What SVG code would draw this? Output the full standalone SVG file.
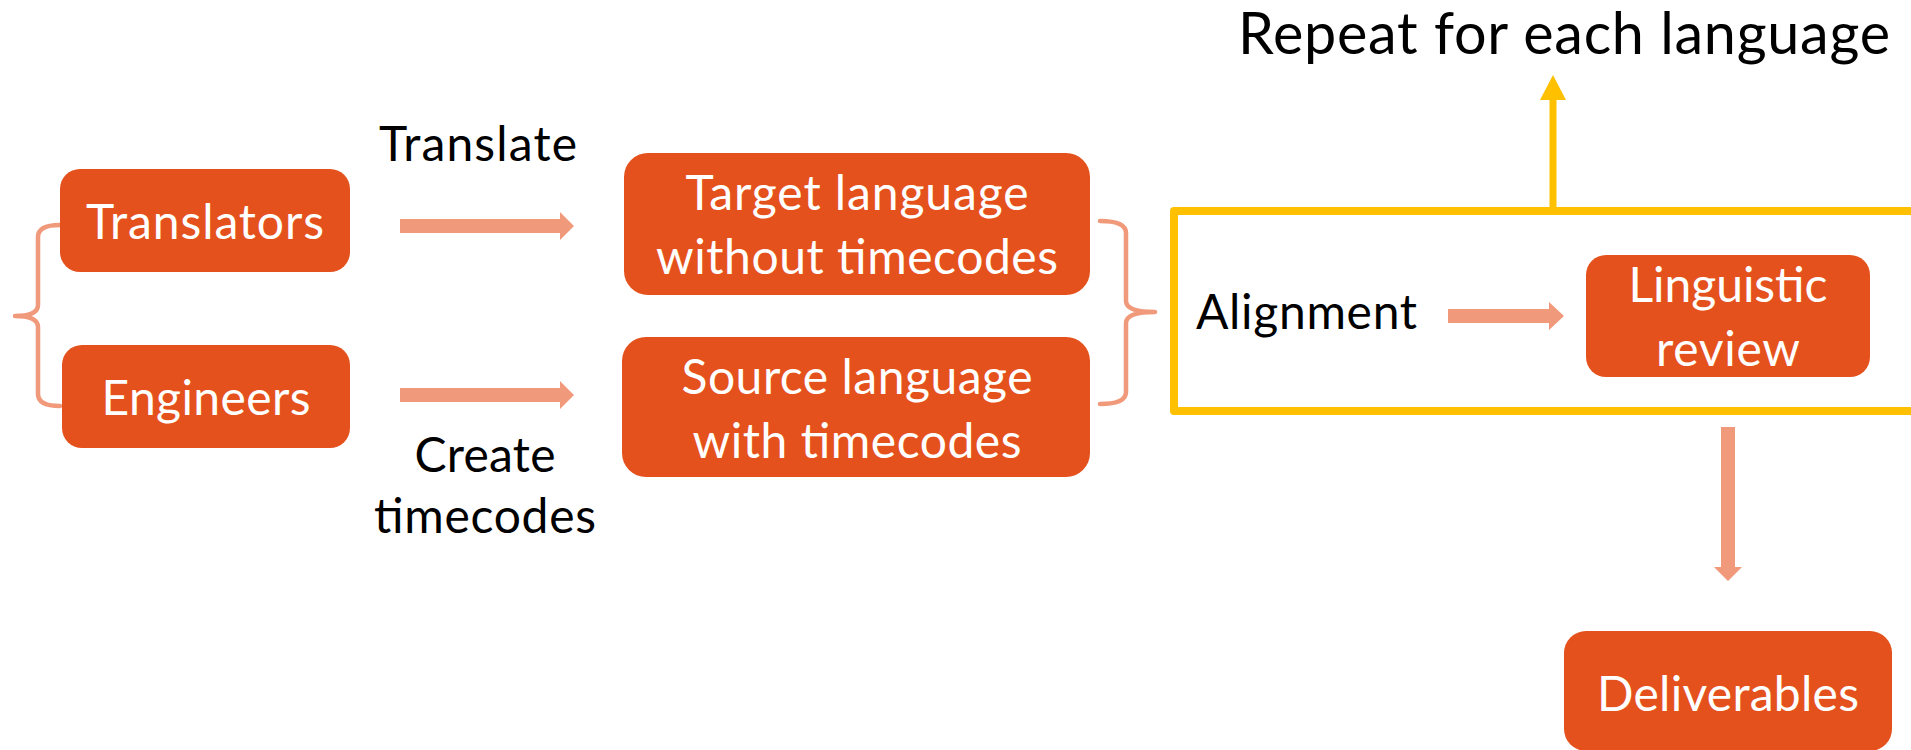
<svg xmlns="http://www.w3.org/2000/svg" width="1911" height="750" viewBox="0 0 1911 750">
  <style>
    .box { fill: #E5511D; }
    .wt { font-family: Lato, "Open Sans", sans-serif; font-size: 48px; fill: #FFFFFF; text-anchor: middle; }
    .bt { font-family: Lato, "Open Sans", sans-serif; font-size: 48px; fill: #000000; text-anchor: middle; }
    .arrow { fill: #F1997B; }
    .brace { fill: none; stroke: #F1997B; stroke-width: 4.5; stroke-linecap: round; stroke-linejoin: round; }
    .frame { fill: none; stroke: #FFC000; stroke-width: 8; stroke-linejoin: round; }
  </style>
  <rect x="0" y="0" width="1911" height="750" fill="#FFFFFF"/>

  <g id="title">
    <text class="bt" x="1564" y="54" style="font-size:57.5px" textLength="652">Repeat for each language</text>
  </g>

  <g id="group-frame">
    <rect class="frame" x="1174" y="211" width="760" height="200"/>
  </g>

  <g id="connectors">
    <path class="brace" d="M60,225 Q38,225 38,237 L38,305 Q38,316 15,316 Q38,316 38,327 L38,394 Q38,406 60,406"/>
    <polygon class="arrow" points="400,219 560,219 560,212 574,226 560,240 560,233 400,233"/>
    <polygon class="arrow" points="400,388 560,388 560,381 574,395 560,409 560,402 400,402"/>
    <path class="brace" d="M1100,221 Q1126,221 1126,233 L1126,301 Q1126,312 1155,312 Q1126,312 1126,323 L1126,392 Q1126,404 1100,404"/>
    <polygon class="arrow" points="1448,309 1549,309 1549,302 1564,316 1549,330 1549,323 1448,323"/>
    <polygon class="arrow" points="1721,427 1735,427 1735,567 1742,567 1728,581 1714,567 1721,567"/>
    <line x1="1553" y1="211" x2="1553" y2="98" stroke="#FFC000" stroke-width="7"/>
    <polygon points="1540,100 1553,75 1566,100" fill="#FFC000"/>
    <text class="bt" x="478" y="161" textLength="198">Translate</text>
    <text class="bt" x="485" y="472" textLength="141">Create</text>
    <text class="bt" x="485" y="533" textLength="222">timecodes</text>
  </g>

  <g id="translators">
    <rect class="box" x="60" y="169" width="290" height="103" rx="20"/>
    <text class="wt" x="205" y="239" textLength="238">Translators</text>
  </g>

  <g id="engineers">
    <rect class="box" x="62" y="345" width="288" height="103" rx="20"/>
    <text class="wt" x="206" y="415" textLength="209">Engineers</text>
  </g>

  <g id="target">
    <rect class="box" x="624" y="153" width="466" height="142" rx="24"/>
    <text class="wt" x="857" y="210" textLength="343">Target language</text>
    <text class="wt" x="857" y="274" textLength="402">without timecodes</text>
  </g>

  <g id="source">
    <rect class="box" x="622" y="337" width="468" height="140" rx="24"/>
    <text class="wt" x="857" y="394" textLength="351">Source language</text>
    <text class="wt" x="857" y="458" textLength="329">with timecodes</text>
  </g>

  <g id="alignment">
    <text class="bt" x="1196" y="329" style="text-anchor:start" textLength="221">Alignment</text>
  </g>

  <g id="linguistic-review">
    <rect class="box" x="1586" y="255" width="284" height="122" rx="20"/>
    <text class="wt" x="1728" y="302" textLength="199">Linguistic</text>
    <text class="wt" x="1728" y="366" textLength="144">review</text>
  </g>

  <g id="deliverables">
    <rect class="box" x="1564" y="631" width="328" height="120" rx="22"/>
    <text class="wt" x="1728" y="711" textLength="262">Deliverables</text>
  </g>
</svg>
